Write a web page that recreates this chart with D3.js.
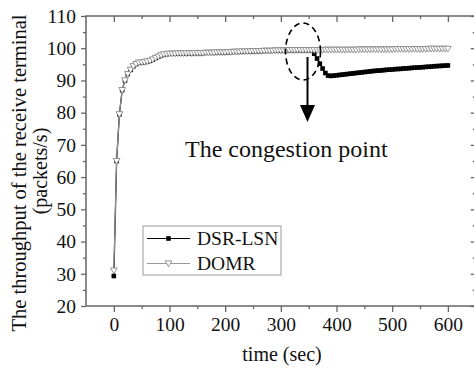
<!DOCTYPE html>
<html>
<head>
<meta charset="utf-8">
<script src="https://cdn.jsdelivr.net/npm/d3@7"></script>
<style>
  html, body { margin: 0; padding: 0; background: #fff; }
  svg { display: block; }
  text { font-family: "Liberation Serif", "Times New Roman", serif; fill: #111; }
</style>
</head>
<body>
<script>
// ---------- data ----------
const time = [0,5,10,15,20,25,30,35,40,45,50,55,60,65,70,75,80,85,90,95,
  100,105,110,115,120,125,130,135,140,145,150,155,160,165,170,175,180,185,190,195,
  200,205,210,215,220,225,230,235,240,245,250,255,260,265,270,275,280,285,290,295,
  300,305,310,315,320,325,330,335,340,345,350,355,360,365,370,375,380,385,390,395,
  400,405,410,415,420,425,430,435,440,445,450,455,460,465,470,475,480,485,490,495,
  500,505,510,515,520,525,530,535,540,545,550,555,560,565,570,575,580,585,590,595,600];

const domr = [31,65,79.5,87,90,92,93.3,94.4,95.1,95.5,
  95.6,95.7,95.9,96.1,96.5,97,97.4,97.8,98.1,98.2,
  98.3,98.3,98.3,98.4,98.4,98.4,98.4,98.5,98.4,98.5,
  98.5,98.5,98.5,98.6,98.6,98.6,98.6,98.7,98.7,98.7,
  98.7,98.8,98.8,98.9,98.9,98.9,99.0,99.0,99.0,99.0,
  99.1,99.1,99.1,99.1,99.2,99.2,99.2,99.2,99.3,99.3,
  99.3,99.3,99.3,99.4,99.4,99.4,99.4,99.4,99.4,99.4,
  99.4,99.4,99.4,99.4,99.4,99.4,99.5,99.5,99.5,99.5,
  99.5,99.5,99.5,99.5,99.5,99.5,99.5,99.5,99.6,99.6,
  99.6,99.6,99.6,99.6,99.6,99.6,99.6,99.6,99.6,99.6,
  99.6,99.7,99.7,99.7,99.7,99.7,99.7,99.7,99.7,99.7,
  99.7,99.7,99.7,99.8,99.8,99.8,99.8,99.8,99.8,99.8,99.8];

const dsrLsn = [29.3,65,79.5,87,90,92,93.3,94.4,95.1,95.5,
  95.6,95.7,95.9,96.1,96.5,97,97.4,97.8,98.1,98.2,
  98.3,98.3,98.3,98.4,98.4,98.4,98.4,98.5,98.4,98.5,
  98.5,98.5,98.5,98.6,98.6,98.6,98.6,98.7,98.7,98.7,
  98.7,98.8,98.8,98.9,98.9,98.9,99.0,99.0,99.0,99.0,
  99.1,99.1,99.1,99.1,99.2,99.2,99.2,99.2,99.3,99.3,
  99.3,99.3,99.3,99.4,99.4,99.4,99.4,99.4,99.4,99.4,
  99.4,99.4,98.3,96.8,95.2,93.7,92.3,91.5,91.4,91.5,
  91.6,91.7,91.8,91.9,92.0,92.1,92.2,92.3,92.4,92.5,
  92.6,92.7,92.8,92.9,93.0,93.05,93.1,93.2,93.3,93.35,
  93.4,93.5,93.55,93.6,93.7,93.75,93.8,93.9,93.95,94.0,
  94.05,94.1,94.2,94.25,94.3,94.4,94.45,94.5,94.55,94.6,94.65];

const xMajorTicks = [0,100,200,300,400,500,600];
const xMinorTicks = [50,150,250,350,450,550];
const yMajorTicks = [20,30,40,50,60,70,80,90,100,110];
const yMinorTicks = [25,35,45,55,65,75,85,95,105];
const seriesNames = ["DSR-LSN","DOMR"];

// ---------- layout ----------
const W = 474, H = 368;
const svg = d3.select("body").append("svg").attr("width", W).attr("height", H);

const x = d3.scaleLinear().domain([-50, 650]).range([86, 475.7]);
const y = d3.scaleLinear().domain([20, 110]).range([306, 16]);

const axisColor = "#666";

// frame
svg.append("rect")
  .attr("x", x(-50)).attr("y", y(110))
  .attr("width", x(650) - x(-50)).attr("height", y(20) - y(110))
  .attr("fill", "none").attr("stroke", axisColor).attr("stroke-width", 1.5);

function styleAxis(g) {
  g.select(".domain").remove();
  g.selectAll(".tick line").attr("stroke", axisColor).attr("stroke-width", 1.3);
  g.selectAll("text").attr("font-family", "Liberation Serif, serif").attr("font-size", 19.5).attr("fill", "#111");
}

// bottom axis
svg.append("g").attr("transform", `translate(0,${y(20)})`)
  .call(d3.axisBottom(x).tickValues(xMajorTicks).tickSize(6).tickPadding(5).tickFormat(d3.format("d")))
  .call(styleAxis);
svg.append("g").attr("transform", `translate(0,${y(20)})`)
  .call(d3.axisBottom(x).tickValues(xMinorTicks).tickSize(3).tickFormat(""))
  .call(styleAxis);
// top axis (inward ticks)
svg.append("g").attr("transform", `translate(0,${y(110)})`)
  .call(d3.axisTop(x).tickValues(xMajorTicks).tickSize(-6).tickFormat(""))
  .call(styleAxis);
svg.append("g").attr("transform", `translate(0,${y(110)})`)
  .call(d3.axisTop(x).tickValues(xMinorTicks).tickSize(-3).tickFormat(""))
  .call(styleAxis);
// left axis
svg.append("g").attr("transform", `translate(${x(-50)},0)`)
  .call(d3.axisLeft(y).tickValues(yMajorTicks).tickSize(5).tickPadding(5).tickFormat(d3.format("d")))
  .call(styleAxis);
svg.append("g").attr("transform", `translate(${x(-50)},0)`)
  .call(d3.axisLeft(y).tickValues(yMinorTicks).tickSize(3).tickFormat(""))
  .call(styleAxis);
// right axis (inward ticks)
svg.append("g").attr("transform", `translate(${x(650)},0)`)
  .call(d3.axisRight(y).tickValues(yMajorTicks).tickSize(-5).tickFormat(""))
  .call(styleAxis);
svg.append("g").attr("transform", `translate(${x(650)},0)`)
  .call(d3.axisRight(y).tickValues(yMinorTicks).tickSize(-3).tickFormat(""))
  .call(styleAxis);

// ---------- series ----------
const dsrData = time.map((t, i) => ({t, v: dsrLsn[i]}));
const domrData = time.map((t, i) => ({t, v: domr[i]}));
const line = d3.line().x(d => x(d.t)).y(d => y(d.v));

const sq = 4.6;
const triPath = "M-3.4,-2.6 L3.4,-2.6 L0,3.2 Z";

// DSR-LSN
svg.append("path").datum(dsrData).attr("d", line)
  .attr("fill", "none").attr("stroke", "#000").attr("stroke-width", 1.3);
svg.append("g").selectAll("rect").data(dsrData).join("rect")
  .attr("x", d => x(d.t) - sq / 2).attr("y", d => y(d.v) - sq / 2)
  .attr("width", sq).attr("height", sq).attr("fill", "#000");

// DOMR
svg.append("path").datum(domrData).attr("d", line)
  .attr("fill", "none").attr("stroke", "#999").attr("stroke-width", 1);
svg.append("g").selectAll("path").data(domrData).join("path")
  .attr("d", triPath)
  .attr("transform", d => `translate(${x(d.t)},${y(d.v)})`)
  .attr("fill", "#fff").attr("stroke", "#8a8a8a").attr("stroke-width", 0.9);

// ---------- annotation ----------
svg.append("ellipse")
  .attr("cx", 303).attr("cy", 51.5).attr("rx", 17.5).attr("ry", 28.5)
  .attr("fill", "none").attr("stroke", "#000").attr("stroke-width", 1.6)
  .attr("stroke-dasharray", "6,4");
svg.append("line")
  .attr("x1", 307.5).attr("y1", 57).attr("x2", 307.5).attr("y2", 106)
  .attr("stroke", "#000").attr("stroke-width", 2);
svg.append("path")
  .attr("d", "M300,105 L315,105 L307.5,122 Z").attr("fill", "#000");
svg.append("text")
  .attr("x", 185).attr("y", 156.5).attr("font-size", 24)
  .text("The congestion point");

// ---------- legend ----------
const lg = svg.append("g");
lg.append("rect").attr("x", 143).attr("y", 226).attr("width", 138).attr("height", 49)
  .attr("fill", "#fff").attr("stroke", "#999").attr("stroke-width", 1);
const rows = [238.5, 263.5];
// DSR-LSN row
lg.append("line").attr("x1", 147).attr("x2", 190).attr("y1", rows[0]).attr("y2", rows[0])
  .attr("stroke", "#000").attr("stroke-width", 1);
lg.append("rect").attr("x", 168.5 - sq / 2).attr("y", rows[0] - sq / 2)
  .attr("width", sq).attr("height", sq).attr("fill", "#000");
// DOMR row
lg.append("line").attr("x1", 147).attr("x2", 190).attr("y1", rows[1]).attr("y2", rows[1])
  .attr("stroke", "#999").attr("stroke-width", 1);
lg.append("path").attr("d", triPath)
  .attr("transform", `translate(168.5,${rows[1]})`)
  .attr("fill", "#fff").attr("stroke", "#8a8a8a").attr("stroke-width", 0.9);
lg.selectAll("text.lbl").data(seriesNames).join("text")
  .attr("class", "lbl")
  .attr("x", 197).attr("y", (d, i) => rows[i]).attr("dy", "0.35em")
  .attr("font-size", 19.5).text(d => d);

// ---------- axis titles ----------
svg.append("text").attr("x", 282).attr("y", 361).attr("text-anchor", "middle")
  .attr("font-size", 20).text("time (sec)");
svg.append("text").attr("transform", "translate(25.5,173) rotate(-90)")
  .attr("text-anchor", "middle").attr("font-size", 20.5)
  .text("The throughput of the receive terminal");
svg.append("text").attr("transform", "translate(46.5,171) rotate(-90)")
  .attr("text-anchor", "middle").attr("font-size", 20)
  .text("(packets/s)");
</script>
</body>
</html>
